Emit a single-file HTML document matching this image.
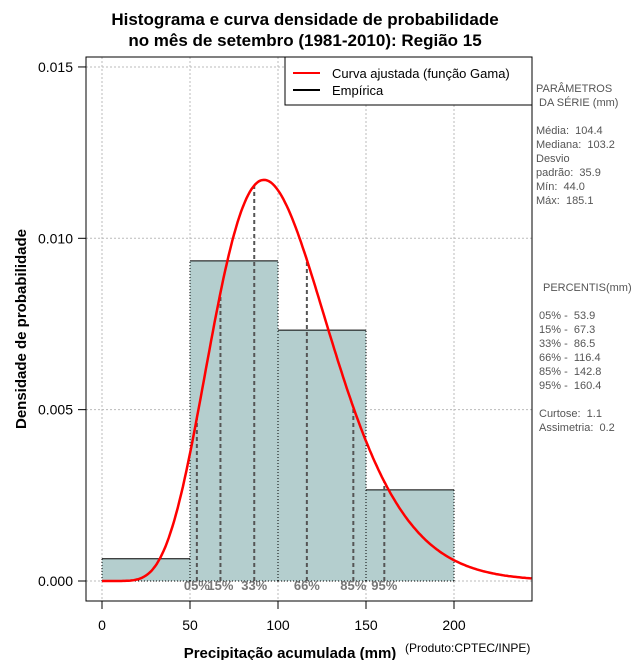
<!DOCTYPE html>
<html><head><meta charset="utf-8"><style>
body{margin:0;background:#fff;}
svg text{font-family:"Liberation Sans",sans-serif;white-space:pre;}
</style></head><body>
<svg id="c" width="640" height="660" xmlns="http://www.w3.org/2000/svg">
<text x="305" y="25" text-anchor="middle" font-size="17" font-weight="bold">Histograma e curva densidade de probabilidade</text>
<text x="305" y="46" text-anchor="middle" font-size="17" font-weight="bold">no mês de setembro (1981-2010): Região 15</text>
<g id="grid"></g><g id="bars"></g><g id="pct"></g><g id="curve"></g><g id="axes"></g>
<rect x="86" y="57" width="446" height="544" fill="none" stroke="#000" stroke-width="1"/>
<g>
<rect x="285" y="57" width="247" height="48" fill="#fff" stroke="#000"/>
<line x1="293" y1="73" x2="320" y2="73" stroke="red" stroke-width="2"/>
<text x="332" y="78" font-size="13">Curva ajustada (função Gama)</text>
<line x1="293" y1="90" x2="320" y2="90" stroke="#000" stroke-width="2"/>
<text x="332" y="95" font-size="13">Empírica</text>
</g>
<text transform="translate(26,329) rotate(-90)" text-anchor="middle" font-size="15" font-weight="bold">Densidade de probabilidade</text>
<text x="290" y="658" text-anchor="middle" font-size="15" font-weight="bold">Precipitação acumulada (mm)</text>
<text x="405" y="652" font-size="12">(Produto:CPTEC/INPE)</text>
<g font-size="11" fill="#555">
<text x="536" y="92">PARÂMETROS</text><text x="539" y="106">DA SÉRIE (mm)</text>
<text x="536" y="134">Média:  104.4</text><text x="536" y="148">Mediana:  103.2</text>
<text x="536" y="162">Desvio</text><text x="536" y="176">padrão:  35.9</text>
<text x="536" y="190">Mín:  44.0</text><text x="536" y="204">Máx:  185.1</text>
<text x="543" y="291">PERCENTIS(mm)</text>
<text x="539" y="319">05% -  53.9</text><text x="539" y="333">15% -  67.3</text>
<text x="539" y="347">33% -  86.5</text><text x="539" y="361">66% -  116.4</text>
<text x="539" y="375">85% -  142.8</text><text x="539" y="389">95% -  160.4</text>
<text x="539" y="417">Curtose:  1.1</text><text x="539" y="431">Assimetria:  0.2</text>
</g>
</svg>
<script>
const binStarts=[0,50,100,150];
const binWidth=[50];
const densities=[0.00065,0.00934,0.00732,0.00266];
const pctLabels=["05%","15%","33%","66%","85%","95%"];
const pctValues=[53.9,67.3,86.5,116.4,142.8,160.4];
const gammaParams=[8.46,12.34];
const xTicks=[0,50,100,150,200];
const yTicks=[0,0.005,0.010,0.015];
const yTickLabels=["0.000","0.005","0.010","0.015"];
const NS="http://www.w3.org/2000/svg";
const X=v=>102+v*1.76, Y=v=>581-v*34270;
function mk(p,t,a){const e=document.createElementNS(NS,t);for(const k in a)e.setAttribute(k,a[k]);document.getElementById(p).appendChild(e);return e;}
function lnG(z){const g=[76.18009172947146,-86.50532032941677,24.01409824083091,-1.231739572450155,0.1208650973866179e-2,-0.5395239384953e-5];let x=z,y=z,t=x+5.5;t-=(x+0.5)*Math.log(t);let s=1.000000000190015;for(let j=0;j<6;j++)s+=g[j]/++y;return -t+Math.log(2.5066282746310005*s/x);}
const k=gammaParams[0],th=gammaParams[1];
const pdf=x=>x<=0?0:Math.exp((k-1)*Math.log(x)-x/th-lnG(k)-k*Math.log(th));
xTicks.forEach(t=>{const l=mk('grid','line',{x1:X(t),x2:X(t),y1:57,y2:601,stroke:'#bbb','stroke-dasharray':'2,2'});
const tk=mk('axes','line',{x1:X(t),x2:X(t),y1:601,y2:609,stroke:'#000'});
const tx=mk('axes','text',{x:X(t),y:630,'text-anchor':'middle','font-size':14});tx.textContent=t;});
yTicks.forEach((t,i)=>{const l=mk('grid','line',{x1:86,x2:532,y1:Y(t),y2:Y(t),stroke:'#bbb','stroke-dasharray':'2,2'});
const tk=mk('axes','line',{x1:78,x2:86,y1:Y(t),y2:Y(t),stroke:'#000'});
const tx=mk('axes','text',{x:73,y:Y(t)+5,'text-anchor':'end','font-size':14});tx.textContent=yTickLabels[i];});
binStarts.forEach((b,i)=>{const x0=X(b),x1=X(b+binWidth[0]),y=Y(densities[i]);
const r=mk('bars','rect',{x:x0,y:y,width:x1-x0,height:Y(0)-y,fill:'#b4cece'});
mk('bars','path',{d:`M${x0},${Y(0)}V${y}M${x1},${Y(0)}V${y}M${x0},${Y(0)}H${x1}`,stroke:'#000','stroke-dasharray':'1,2',fill:'none'});
mk('bars','line',{x1:x0,x2:x1,y1:y,y2:y,stroke:'#000'});});
pctValues.forEach((v,i)=>{const l=mk('pct','line',{x1:X(v),x2:X(v),y1:Y(0),y2:Y(pdf(v)),stroke:'#555','stroke-width':2,'stroke-dasharray':'4,3'});
const t=mk('pct','text',{x:X(v),y:590,'text-anchor':'middle','font-size':13,'font-weight':'bold',fill:'#777'});t.textContent=pctLabels[i];});
let d='';for(let x=0;x<=244;x+=1)d+=(x?'L':'M')+X(x).toFixed(1)+','+Y(pdf(x)).toFixed(1);
const c=mk('curve','path',{d:d,stroke:'red','stroke-width':2.5,fill:'none'});
</script>
</body></html>
